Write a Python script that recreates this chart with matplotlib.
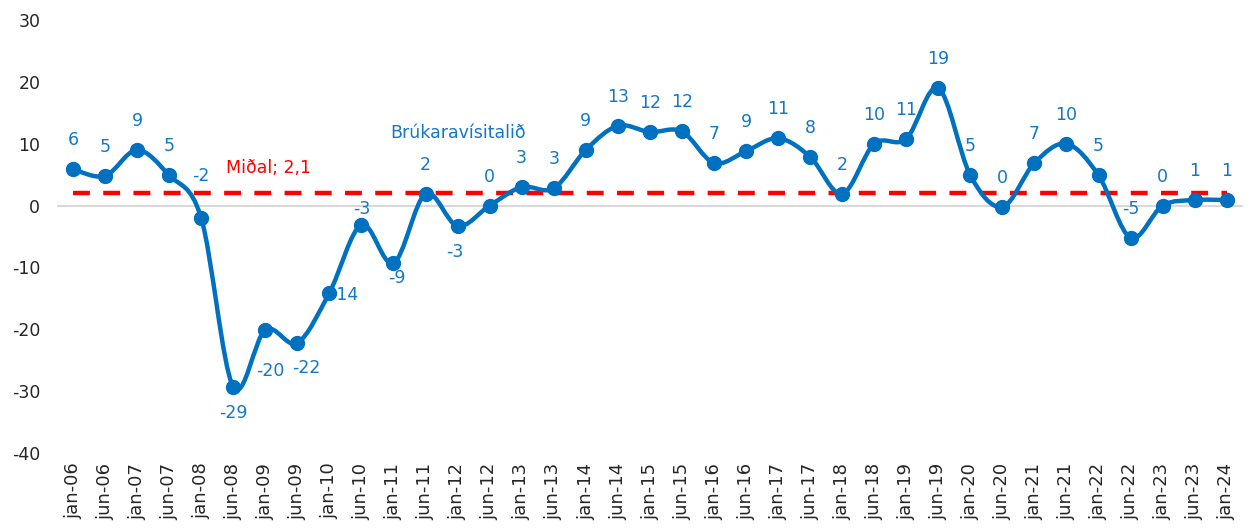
import matplotlib
matplotlib.use("Agg")
import numpy as np
import matplotlib.pyplot as plt
from matplotlib.path import Path
from matplotlib.patches import PathPatch

plt.rcParams["axes.unicode_minus"] = False

# ─── Gögn ──────────────────────────────────────────────
timabil = ["jan-06", "jun-06", "jan-07", "jun-07", "jan-08", "jun-08", "jan-09",
           "jun-09", "jan-10", "jun-10", "jan-11", "jun-11", "jan-12", "jun-12",
           "jan-13", "jun-13", "jan-14", "jun-14", "jan-15", "jun-15", "jan-16",
           "jun-16", "jan-17", "jun-17", "jan-18", "jun-18", "jan-19", "jun-19",
           "jan-20", "jun-20", "jan-21", "jun-21", "jan-22", "jun-22", "jan-23",
           "jun-23", "jan-24"]
visitala = [5.9, 4.8, 9.0, 4.9, -2.0, -29.3, -20.1, -22.2, -14.1, -3.1, -9.3, 1.9,
            -3.3, 0.0, 3.0, 2.8, 9.0, 12.9, 11.9, 12.0, 6.9, 8.8, 10.9, 7.9, 1.9,
            10.0, 10.8, 19.0, 4.9, -0.2, 6.9, 10.0, 4.9, -5.2, 0.0, 0.9, 0.9]
midal = 2.1
yticks = [-40, -30, -20, -10, 0, 10, 20, 30]

BLUE = "#0070C0"
LABEL_BLUE = "#1477C8"
RED = "#FF0000"

x = np.arange(len(visitala))
y = np.array(visitala)
n = len(x)

fig = plt.figure(figsize=(12.49, 5.29), dpi=100)
ax = fig.add_axes([0.0456, 0.1437, 0.9494, 0.8183])

# núlllína
ax.axhline(0, color="#d9d9d9", lw=1.5, zorder=1)

# meðaltal
ax.plot([x[0], x[-1]], [midal, midal], color=RED, lw=3.2,
        dashes=(3.8, 3.0), zorder=2)

# mjúk lína (Bezier eins og í Excel)
verts = [(x[0], y[0])]
codes = [Path.MOVETO]
for i in range(n - 1):
    p0 = np.array([x[max(i - 1, 0)], y[max(i - 1, 0)]])
    p1 = np.array([x[i], y[i]])
    p2 = np.array([x[i + 1], y[i + 1]])
    p3 = np.array([x[min(i + 2, n - 1)], y[min(i + 2, n - 1)]])
    c1 = p1 + (p2 - p0) / 6
    c2 = p2 - (p3 - p1) / 6
    verts += [tuple(c1), tuple(c2), tuple(p2)]
    codes += [Path.CURVE4] * 3
ax.add_patch(PathPatch(Path(verts, codes), fill=False, edgecolor=BLUE,
                       lw=3.2, capstyle="round", joinstyle="round", zorder=4))
ax.plot(x, y, "o", color=BLUE, ms=10, zorder=5)

# gildismerki: (dx, dy, ha) í dílum
placement = {4: (0, 42, "center"), 5: (0, -26, "center"), 6: (5, -41, "center"),
             7: (9, -25, "center"), 8: (1, -2, "left"), 9: (0, 16, "center"),
             10: (3, -15, "center"), 12: (-3, -26, "center")}
for i, v in enumerate(visitala):
    dx, dy, ha = placement.get(i, (0, 29, "center"))
    ax.annotate(str(int(round(v))), (x[i], v), xytext=(dx, dy),
                textcoords="offset pixels", ha=ha, va="center",
                fontsize=12.5, color=LABEL_BLUE, zorder=3)

ax.annotate("Miðal; 2,1", (6.1, midal), xytext=(0, 25), textcoords="offset pixels",
            ha="center", va="center", fontsize=12.5, color=RED)
ax.text(12.0, 11.8, "Brúkaravísitalið", color=LABEL_BLUE, fontsize=12.5,
        ha="center", va="center")

ax.set_xlim(-0.5, n - 0.5)
ax.set_ylim(-40, 30)
ax.set_yticks(yticks)
ax.set_xticks(x)
ax.set_xticklabels(timabil, rotation=90, fontsize=13)
ax.tick_params(axis="y", length=0, pad=12, labelsize=12.5, labelcolor="#262626")
ax.tick_params(axis="x", length=0, pad=7, labelcolor="#262626")
for s in ax.spines.values():
    s.set_visible(False)

fig.savefig("out.png", dpi=100)
